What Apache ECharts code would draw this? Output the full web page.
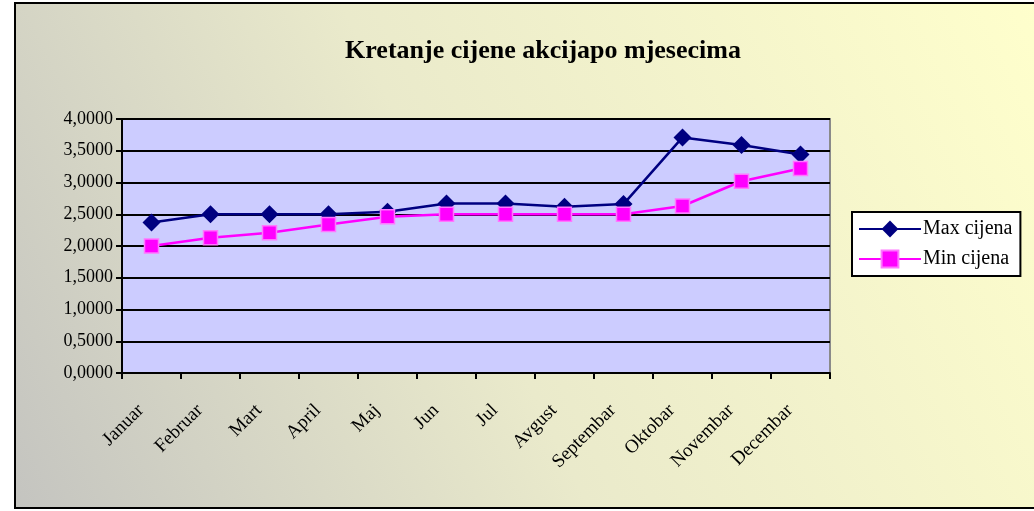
<!DOCTYPE html>
<html>
<head>
<meta charset="utf-8">
<style>
  html, body { margin: 0; padding: 0; background: #fff; }
  #main { width: 1034px; height: 511px; }
</style>
<script src="https://cdn.jsdelivr.net/npm/echarts@6/dist/echarts.min.js"></script>
</head>
<body>
<div id="main"></div>
<script>
var months = ['Januar', 'Februar', 'Mart', 'April', 'Maj', 'Jun', 'Jul', 'Avgust', 'Septembar', 'Oktobar', 'Novembar', 'Decembar'];
var maxCijena = [2.37, 2.50, 2.50, 2.50, 2.54, 2.67, 2.67, 2.62, 2.66, 3.71, 3.59, 3.44];
var minCijena = [2.00, 2.13, 2.21, 2.34, 2.46, 2.50, 2.50, 2.50, 2.50, 2.63, 3.02, 3.22];

var myChart = echarts.init(document.getElementById('main'));
var serif = '"Liberation Serif", "DejaVu Serif", serif';

option = {
    backgroundColor: '#ffffff',
    animation: false,
    graphic: [{
        type: 'rect',
        z: -10,
        shape: { x: 15, y: 3, width: 1030, height: 505 },
        style: {
            fill: new echarts.graphic.LinearGradient(0, 1, 1, 0, [
                { offset: 0, color: '#c4c4c0' },
                { offset: 0.45, color: '#eaeacb' },
                { offset: 1, color: '#ffffcc' }
            ]),
            stroke: '#000',
            lineWidth: 2
        }
    }],
    title: {
        text: 'Kretanje cijene akcijapo mjesecima',
        left: 538,
        textAlign: 'center',
        top: 33,
        textStyle: {
            color: '#000',
            fontFamily: serif,
            fontWeight: 'bold',
            fontSize: 26
        }
    },
    legend: {
        orient: 'vertical',
        left: 852,
        top: 212,
        padding: [7, 8, 7, 6],
        itemGap: 10,
        itemWidth: 62,
        itemHeight: 21,
        backgroundColor: '#fff',
        borderColor: '#000',
        borderWidth: 2,
        borderRadius: 0,
        textStyle: {
            color: '#000',
            fontFamily: serif,
            fontSize: 20,
            padding: [0, 0, 0, -3]
        },
        data: ['Max cijena', 'Min cijena']
    },
    grid: {
        left: 122,
        right: 204,
        top: 119,
        bottom: 138,
        show: true,
        backgroundColor: '#ccccff',
        borderColor: '#8a8a8a',
        borderWidth: 2
    },
    xAxis: {
        type: 'category',
        data: months,
        boundaryGap: true,
        axisLine: { lineStyle: { color: '#000', width: 2 } },
        axisTick: { show: true, length: 6, lineStyle: { color: '#000', width: 2 } },
        axisLabel: {
            rotate: 45,
            margin: 24,
            padding: [0, 15, 0, 0],
            color: '#000',
            fontFamily: serif,
            fontSize: 19
        }
    },
    yAxis: {
        type: 'value',
        min: 0,
        max: 4,
        interval: 0.5,
        axisLine: { show: true, lineStyle: { color: '#000', width: 2 } },
        axisTick: { show: true, length: 6, lineStyle: { color: '#000', width: 2 } },
        splitLine: { lineStyle: { color: '#000', width: 2 } },
        axisLabel: {
            color: '#000',
            fontFamily: serif,
            fontSize: 18,
            margin: 9,
            formatter: function (v) {
                return v.toFixed(4).replace('.', ',');
            }
        }
    },
    series: [{
        name: 'Max cijena',
        type: 'line',
        data: maxCijena,
        symbol: 'diamond',
        symbolSize: 18,
        lineStyle: { color: '#000080', width: 2.5 },
        itemStyle: { color: '#000080' },
        z: 3
    }, {
        name: 'Min cijena',
        type: 'line',
        data: minCijena,
        symbol: 'rect',
        symbolSize: 14,
        lineStyle: { color: '#ff00ff', width: 2.5 },
        itemStyle: { color: '#ff00ff', borderColor: '#ff77ff', borderWidth: 1.5 },
        z: 4
    }]
};

myChart.setOption(option);
</script>
</body>
</html>
